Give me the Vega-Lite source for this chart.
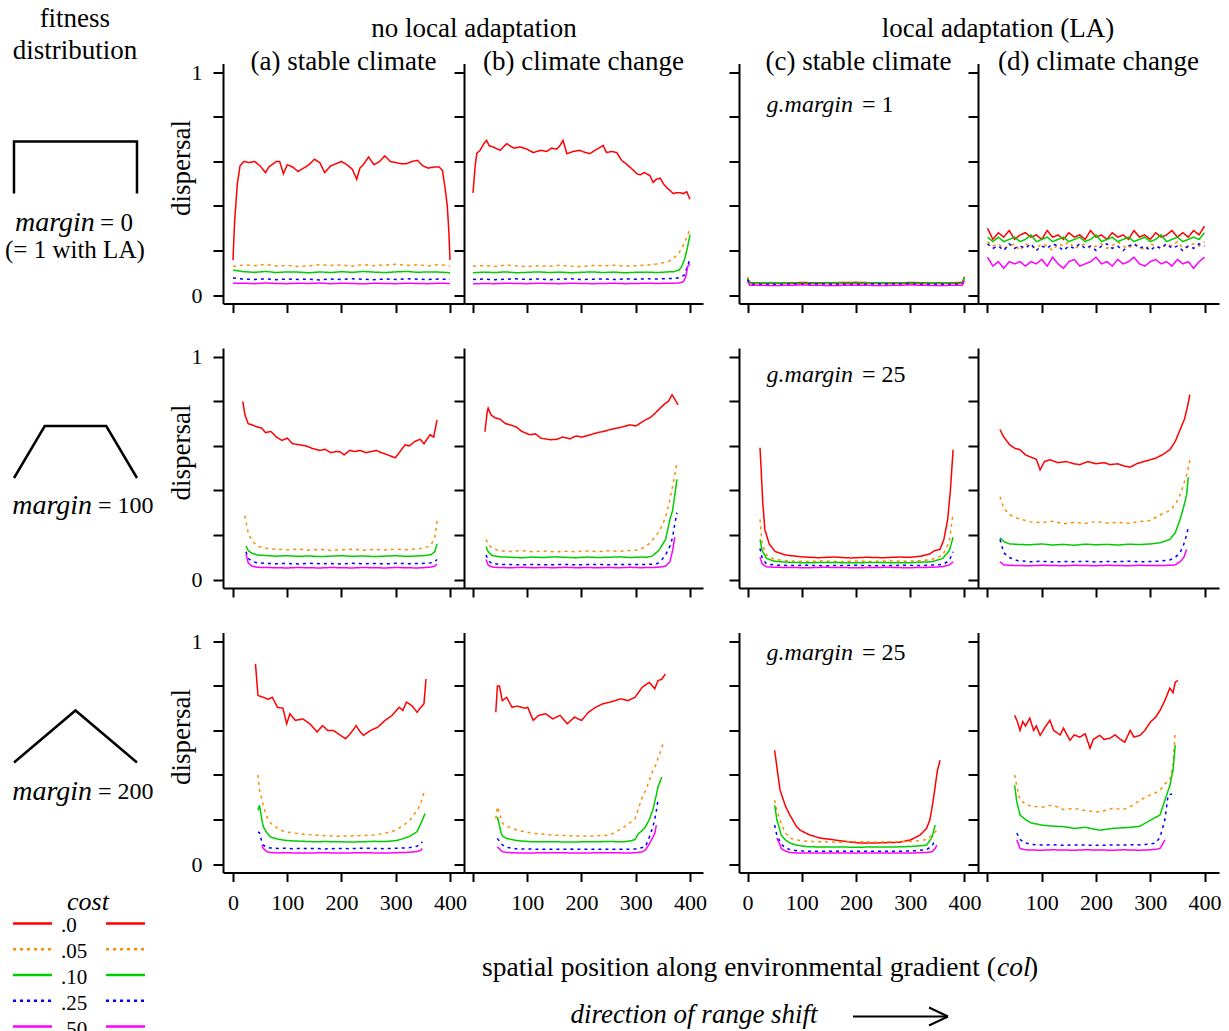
{
"$schema": "https://vega.github.io/schema/vega-lite/v6.json",
"padding": 0,
"background": "white",
"config": {
  "font": "Liberation Serif",
  "view": {"stroke": null},
  "axis": {"grid": false, "domainColor": "black", "domainWidth": 2, "tickColor": "black", "tickWidth": 2, "labelColor": "black", "labelFontSize": 22, "labelFont": "Liberation Serif", "titleFont": "Liberation Serif", "titleColor": "black", "titleFontSize": 27, "titleFontWeight": "normal", "labelFlush": false, "labelOverlap": false},
  "title": {"fontSize": 27, "fontWeight": "normal", "color": "black", "font": "Liberation Serif"},
  "text": {"color": "black"}
},
"datasets": {"d": [
{"p":"a1","x":0,"c0":0.157,"c05":0.128,"c10":0.112,"c25":0.076,"c50":0.053},
{"p":"a1","x":3,"c0":0.33},{"p":"a1","x":8,"c0":0.5},{"p":"a1","x":13,"c0":0.58},
{"p":"a1","x":20,"c0":0.6,"c05":0.135,"c10":0.105,"c25":0.072,"c50":0.053},
{"p":"a1","x":30,"c0":0.595},
{"p":"a1","x":40,"c0":0.6,"c05":0.132,"c10":0.102,"c25":0.07,"c50":0.051},
{"p":"a1","x":50,"c0":0.58},
{"p":"a1","x":60,"c0":0.55,"c05":0.138,"c10":0.106,"c25":0.073,"c50":0.054},
{"p":"a1","x":66,"c0":0.575},
{"p":"a1","x":80,"c0":0.6,"c05":0.13,"c10":0.101,"c25":0.069,"c50":0.052},
{"p":"a1","x":86,"c0":0.6},{"p":"a1","x":93,"c0":0.545},
{"p":"a1","x":100,"c0":0.585,"c05":0.134,"c10":0.104,"c25":0.072,"c50":0.051},
{"p":"a1","x":110,"c0":0.575},
{"p":"a1","x":120,"c0":0.555,"c05":0.128,"c10":0.103,"c25":0.07,"c50":0.053},
{"p":"a1","x":130,"c0":0.57},
{"p":"a1","x":140,"c0":0.585,"c05":0.131,"c10":0.1,"c25":0.071,"c50":0.052},
{"p":"a1","x":150,"c0":0.61},
{"p":"a1","x":160,"c0":0.595,"c05":0.136,"c10":0.104,"c25":0.068,"c50":0.054},
{"p":"a1","x":169,"c0":0.55},
{"p":"a1","x":180,"c0":0.58,"c05":0.133,"c10":0.101,"c25":0.072,"c50":0.051},
{"p":"a1","x":190,"c0":0.59},
{"p":"a1","x":200,"c0":0.6,"c05":0.135,"c10":0.105,"c25":0.07,"c50":0.053},
{"p":"a1","x":210,"c0":0.585},
{"p":"a1","x":220,"c0":0.565,"c05":0.129,"c10":0.102,"c25":0.073,"c50":0.052},
{"p":"a1","x":228,"c0":0.52},{"p":"a1","x":234,"c0":0.57},
{"p":"a1","x":240,"c0":0.585,"c05":0.137,"c10":0.106,"c25":0.071,"c50":0.05},
{"p":"a1","x":250,"c0":0.62},
{"p":"a1","x":260,"c0":0.585,"c05":0.132,"c10":0.103,"c25":0.069,"c50":0.053},
{"p":"a1","x":270,"c0":0.6},
{"p":"a1","x":280,"c0":0.625,"c05":0.135,"c10":0.101,"c25":0.072,"c50":0.052},
{"p":"a1","x":290,"c0":0.6},
{"p":"a1","x":300,"c0":0.595,"c05":0.138,"c10":0.104,"c25":0.07,"c50":0.051},
{"p":"a1","x":310,"c0":0.59},
{"p":"a1","x":320,"c0":0.59,"c05":0.133,"c10":0.106,"c25":0.073,"c50":0.053},
{"p":"a1","x":330,"c0":0.6},
{"p":"a1","x":340,"c0":0.605,"c05":0.136,"c10":0.102,"c25":0.071,"c50":0.052},
{"p":"a1","x":350,"c0":0.58},
{"p":"a1","x":360,"c0":0.57,"c05":0.131,"c10":0.104,"c25":0.07,"c50":0.051},
{"p":"a1","x":370,"c0":0.575},
{"p":"a1","x":380,"c0":0.575,"c05":0.137,"c10":0.103,"c25":0.072,"c50":0.053},
{"p":"a1","x":386,"c0":0.56},{"p":"a1","x":391,"c0":0.48},{"p":"a1","x":395,"c0":0.4},{"p":"a1","x":398,"c0":0.28},
{"p":"a1","x":400,"c0":0.157,"c05":0.13,"c10":0.1,"c25":0.07,"c50":0.052},

{"p":"b1","x":0,"c0":0.459,"c05":0.13,"c10":0.1,"c25":0.07,"c50":0.05},
{"p":"b1","x":4,"c0":0.58},{"p":"b1","x":7,"c0":0.637},{"p":"b1","x":13,"c0":0.65},
{"p":"b1","x":20,"c0":0.68,"c05":0.133,"c10":0.103,"c25":0.072,"c50":0.052},
{"p":"b1","x":25,"c0":0.695},{"p":"b1","x":30,"c0":0.67},{"p":"b1","x":37,"c0":0.665},{"p":"b1","x":50,"c0":0.65},
{"p":"b1","x":62,"c0":0.68},{"p":"b1","x":75,"c0":0.66},{"p":"b1","x":87,"c0":0.665},{"p":"b1","x":100,"c0":0.655},
{"p":"b1","x":111,"c0":0.64},{"p":"b1","x":125,"c0":0.65},{"p":"b1","x":136,"c0":0.645},{"p":"b1","x":145,"c0":0.66},
{"p":"b1","x":154,"c0":0.655},{"p":"b1","x":160,"c0":0.67},{"p":"b1","x":166,"c0":0.695},{"p":"b1","x":173,"c0":0.635},
{"p":"b1","x":185,"c0":0.645},{"p":"b1","x":197,"c0":0.65},{"p":"b1","x":207,"c0":0.64},{"p":"b1","x":215,"c0":0.635},
{"p":"b1","x":225,"c0":0.65},{"p":"b1","x":232,"c0":0.66},{"p":"b1","x":240,"c0":0.672},{"p":"b1","x":246,"c0":0.64},
{"p":"b1","x":255,"c0":0.645},{"p":"b1","x":265,"c0":0.64},{"p":"b1","x":274,"c0":0.605},{"p":"b1","x":282,"c0":0.59},
{"p":"b1","x":289,"c0":0.575},{"p":"b1","x":296,"c0":0.56},{"p":"b1","x":302,"c0":0.545},{"p":"b1","x":308,"c0":0.54},
{"p":"b1","x":316,"c0":0.55},{"p":"b1","x":326,"c0":0.537},{"p":"b1","x":332,"c0":0.506},{"p":"b1","x":338,"c0":0.52},
{"p":"b1","x":345,"c0":0.525},{"p":"b1","x":351,"c0":0.5},{"p":"b1","x":357,"c0":0.483},{"p":"b1","x":363,"c0":0.47},
{"p":"b1","x":369,"c0":0.456},{"p":"b1","x":375,"c0":0.46},{"p":"b1","x":382,"c0":0.46},{"p":"b1","x":388,"c0":0.455},
{"p":"b1","x":394,"c0":0.464},
{"p":"b1","x":40,"c05":0.128,"c10":0.101,"c25":0.069,"c50":0.051},
{"p":"b1","x":60,"c05":0.135,"c10":0.104,"c25":0.071,"c50":0.053},
{"p":"b1","x":80,"c05":0.131,"c10":0.1,"c25":0.073,"c50":0.052},
{"p":"b1","x":100,"c05":0.127,"c10":0.102,"c25":0.07,"c50":0.051},
{"p":"b1","x":120,"c05":0.132,"c10":0.104,"c25":0.072,"c50":0.053},
{"p":"b1","x":140,"c05":0.129,"c10":0.101,"c25":0.069,"c50":0.052},
{"p":"b1","x":160,"c05":0.134,"c10":0.103,"c25":0.071,"c50":0.051},
{"p":"b1","x":180,"c05":0.13,"c10":0.1,"c25":0.073,"c50":0.053},
{"p":"b1","x":200,"c05":0.128,"c10":0.102,"c25":0.07,"c50":0.052},
{"p":"b1","x":220,"c05":0.133,"c10":0.104,"c25":0.071,"c50":0.051},
{"p":"b1","x":240,"c05":0.131,"c10":0.101,"c25":0.072,"c50":0.052},
{"p":"b1","x":260,"c05":0.134,"c10":0.103,"c25":0.07,"c50":0.053},
{"p":"b1","x":280,"c05":0.13,"c10":0.1,"c25":0.072,"c50":0.051},
{"p":"b1","x":300,"c05":0.132,"c10":0.102,"c25":0.071,"c50":0.052},
{"p":"b1","x":320,"c05":0.134,"c10":0.103,"c25":0.073,"c50":0.053},
{"p":"b1","x":340,"c05":0.14,"c10":0.101,"c25":0.072,"c50":0.052},
{"p":"b1","x":360,"c05":0.15,"c10":0.104,"c25":0.074,"c50":0.053},
{"p":"b1","x":370,"c05":0.165,"c10":0.105,"c25":0.074,"c50":0.053},
{"p":"b1","x":380,"c05":0.19,"c10":0.112,"c25":0.078,"c50":0.054},
{"p":"b1","x":385,"c10":0.13},
{"p":"b1","x":388,"c50":0.06},
{"p":"b1","x":390,"c05":0.235,"c10":0.16,"c25":0.09},
{"p":"b1","x":392,"c50":0.08},
{"p":"b1","x":394,"c25":0.12},
{"p":"b1","x":395,"c10":0.21},
{"p":"b1","x":396,"c50":0.13},
{"p":"b1","x":397,"c25":0.14},
{"p":"b1","x":400,"c0":0.43,"c05":0.295,"c10":0.27,"c25":0.164,"c50":0.14},

{"p":"c1","x":0,"c0":0.078,"c05":0.072,"c10":0.075,"c25":0.068,"c50":0.062},
{"p":"c1","x":4,"c0":0.056,"c05":0.053,"c10":0.054,"c25":0.049,"c50":0.044},
{"p":"c1","x":50,"c0":0.054,"c05":0.052,"c10":0.055,"c25":0.048,"c50":0.043},
{"p":"c1","x":100,"c0":0.056,"c05":0.053,"c10":0.052,"c25":0.05,"c50":0.045},
{"p":"c1","x":150,"c0":0.055,"c05":0.051,"c10":0.054,"c25":0.049,"c50":0.043},
{"p":"c1","x":200,"c0":0.057,"c05":0.053,"c10":0.053,"c25":0.048,"c50":0.044},
{"p":"c1","x":250,"c0":0.054,"c05":0.052,"c10":0.055,"c25":0.05,"c50":0.043},
{"p":"c1","x":300,"c0":0.056,"c05":0.051,"c10":0.053,"c25":0.049,"c50":0.045},
{"p":"c1","x":350,"c0":0.055,"c05":0.053,"c10":0.054,"c25":0.048,"c50":0.043},
{"p":"c1","x":396,"c0":0.056,"c05":0.052,"c10":0.053,"c25":0.049,"c50":0.044},
{"p":"c1","x":400,"c0":0.082,"c05":0.076,"c10":0.08,"c25":0.07,"c50":0.066},

{"p":"d1","x":0,"c0":0.3,"c05":0.24,"c10":0.26,"c25":0.23,"c50":0.17},
{"p":"d1","x":10,"c0":0.25,"c05":0.22,"c10":0.24,"c25":0.21,"c50":0.13},
{"p":"d1","x":20,"c0":0.28,"c05":0.23,"c10":0.26,"c25":0.22,"c50":0.15},
{"p":"d1","x":30,"c0":0.26,"c05":0.21,"c10":0.24,"c25":0.2,"c50":0.12},
{"p":"d1","x":40,"c0":0.29,"c05":0.22,"c10":0.25,"c25":0.23,"c50":0.15},
{"p":"d1","x":50,"c0":0.25,"c05":0.23,"c10":0.26,"c25":0.21,"c50":0.14},
{"p":"d1","x":60,"c0":0.27,"c05":0.2,"c10":0.24,"c25":0.22,"c50":0.15},
{"p":"d1","x":70,"c0":0.28,"c05":0.23,"c10":0.25,"c25":0.21,"c50":0.13},
{"p":"d1","x":80,"c0":0.26,"c05":0.22,"c10":0.27,"c25":0.23,"c50":0.15},
{"p":"d1","x":90,"c0":0.27,"c05":0.21,"c10":0.24,"c25":0.2,"c50":0.14},
{"p":"d1","x":100,"c0":0.25,"c05":0.23,"c10":0.25,"c25":0.22,"c50":0.16},
{"p":"d1","x":110,"c0":0.29,"c05":0.22,"c10":0.26,"c25":0.21,"c50":0.13},
{"p":"d1","x":120,"c0":0.26,"c05":0.2,"c10":0.24,"c25":0.23,"c50":0.17},
{"p":"d1","x":130,"c0":0.27,"c05":0.23,"c10":0.25,"c25":0.22,"c50":0.14},
{"p":"d1","x":140,"c0":0.25,"c05":0.22,"c10":0.26,"c25":0.2,"c50":0.12},
{"p":"d1","x":150,"c0":0.28,"c05":0.24,"c10":0.24,"c25":0.22,"c50":0.15},
{"p":"d1","x":160,"c0":0.26,"c05":0.21,"c10":0.25,"c25":0.21,"c50":0.16},
{"p":"d1","x":170,"c0":0.27,"c05":0.22,"c10":0.26,"c25":0.23,"c50":0.13},
{"p":"d1","x":180,"c0":0.25,"c05":0.23,"c10":0.24,"c25":0.21,"c50":0.14},
{"p":"d1","x":190,"c0":0.29,"c05":0.21,"c10":0.25,"c25":0.22,"c50":0.15},
{"p":"d1","x":200,"c0":0.26,"c05":0.22,"c10":0.27,"c25":0.2,"c50":0.17},
{"p":"d1","x":210,"c0":0.27,"c05":0.23,"c10":0.24,"c25":0.22,"c50":0.14},
{"p":"d1","x":220,"c0":0.25,"c05":0.21,"c10":0.25,"c25":0.23,"c50":0.15},
{"p":"d1","x":230,"c0":0.28,"c05":0.22,"c10":0.26,"c25":0.21,"c50":0.13},
{"p":"d1","x":240,"c0":0.26,"c05":0.24,"c10":0.24,"c25":0.22,"c50":0.16},
{"p":"d1","x":250,"c0":0.27,"c05":0.22,"c10":0.25,"c25":0.2,"c50":0.14},
{"p":"d1","x":260,"c0":0.25,"c05":0.21,"c10":0.26,"c25":0.22,"c50":0.15},
{"p":"d1","x":270,"c0":0.29,"c05":0.23,"c10":0.24,"c25":0.23,"c50":0.17},
{"p":"d1","x":280,"c0":0.26,"c05":0.22,"c10":0.25,"c25":0.21,"c50":0.14},
{"p":"d1","x":290,"c0":0.27,"c05":0.2,"c10":0.26,"c25":0.22,"c50":0.13},
{"p":"d1","x":300,"c0":0.25,"c05":0.23,"c10":0.24,"c25":0.2,"c50":0.15},
{"p":"d1","x":310,"c0":0.28,"c05":0.22,"c10":0.25,"c25":0.22,"c50":0.16},
{"p":"d1","x":320,"c0":0.26,"c05":0.21,"c10":0.27,"c25":0.21,"c50":0.14},
{"p":"d1","x":330,"c0":0.27,"c05":0.23,"c10":0.24,"c25":0.23,"c50":0.15},
{"p":"d1","x":340,"c0":0.29,"c05":0.22,"c10":0.25,"c25":0.21,"c50":0.13},
{"p":"d1","x":350,"c0":0.26,"c05":0.24,"c10":0.26,"c25":0.22,"c50":0.16},
{"p":"d1","x":360,"c0":0.28,"c05":0.21,"c10":0.24,"c25":0.2,"c50":0.14},
{"p":"d1","x":370,"c0":0.26,"c05":0.22,"c10":0.25,"c25":0.22,"c50":0.15},
{"p":"d1","x":380,"c0":0.29,"c05":0.23,"c10":0.26,"c25":0.21,"c50":0.12},
{"p":"d1","x":390,"c0":0.27,"c05":0.22,"c10":0.25,"c25":0.23,"c50":0.15},
{"p":"d1","x":400,"c0":0.31,"c05":0.24,"c10":0.28,"c25":0.22,"c50":0.17},

{"p":"a2","x":18,"c0":0.8},{"p":"a2","x":22,"c0":0.74},{"p":"a2","x":28,"c0":0.7},{"p":"a2","x":35,"c0":0.695},
{"p":"a2","x":45,"c0":0.685},{"p":"a2","x":53,"c0":0.68},{"p":"a2","x":60,"c0":0.66},{"p":"a2","x":70,"c0":0.665},
{"p":"a2","x":80,"c0":0.64},{"p":"a2","x":90,"c0":0.625},{"p":"a2","x":100,"c0":0.635},{"p":"a2","x":110,"c0":0.61},
{"p":"a2","x":123,"c0":0.605},{"p":"a2","x":135,"c0":0.6},{"p":"a2","x":145,"c0":0.59},{"p":"a2","x":160,"c0":0.58},
{"p":"a2","x":170,"c0":0.585},{"p":"a2","x":180,"c0":0.57},{"p":"a2","x":190,"c0":0.575},{"p":"a2","x":197,"c0":0.574},
{"p":"a2","x":205,"c0":0.56},{"p":"a2","x":215,"c0":0.58},{"p":"a2","x":225,"c0":0.575},{"p":"a2","x":234,"c0":0.58},
{"p":"a2","x":245,"c0":0.57},{"p":"a2","x":255,"c0":0.575},{"p":"a2","x":265,"c0":0.58},{"p":"a2","x":271,"c0":0.572},
{"p":"a2","x":285,"c0":0.56},{"p":"a2","x":299,"c0":0.547},{"p":"a2","x":305,"c0":0.565},{"p":"a2","x":317,"c0":0.605},
{"p":"a2","x":325,"c0":0.6},{"p":"a2","x":335,"c0":0.62},{"p":"a2","x":345,"c0":0.63},{"p":"a2","x":352,"c0":0.61},
{"p":"a2","x":363,"c0":0.65},{"p":"a2","x":370,"c0":0.64},{"p":"a2","x":376,"c0":0.717},
{"p":"a2","x":22,"c05":0.287},
{"p":"a2","x":24,"c05":0.26,"c10":0.15,"c25":0.125,"c50":0.115},
{"p":"a2","x":28,"c05":0.21,"c10":0.13,"c25":0.095,"c50":0.075},
{"p":"a2","x":35,"c05":0.175,"c10":0.118,"c25":0.082,"c50":0.06},
{"p":"a2","x":45,"c05":0.15,"c10":0.11,"c25":0.075,"c50":0.055},
{"p":"a2","x":60,"c05":0.14,"c10":0.108,"c25":0.073,"c50":0.054},
{"p":"a2","x":80,"c05":0.136,"c10":0.105,"c25":0.071,"c50":0.053},
{"p":"a2","x":100,"c05":0.133,"c10":0.107,"c25":0.072,"c50":0.052},
{"p":"a2","x":120,"c05":0.137,"c10":0.104,"c25":0.07,"c50":0.054},
{"p":"a2","x":140,"c05":0.132,"c10":0.106,"c25":0.073,"c50":0.053},
{"p":"a2","x":160,"c05":0.135,"c10":0.103,"c25":0.071,"c50":0.052},
{"p":"a2","x":180,"c05":0.131,"c10":0.105,"c25":0.072,"c50":0.054},
{"p":"a2","x":200,"c05":0.134,"c10":0.107,"c25":0.07,"c50":0.053},
{"p":"a2","x":220,"c05":0.136,"c10":0.104,"c25":0.073,"c50":0.052},
{"p":"a2","x":240,"c05":0.132,"c10":0.106,"c25":0.071,"c50":0.054},
{"p":"a2","x":260,"c05":0.135,"c10":0.103,"c25":0.072,"c50":0.053},
{"p":"a2","x":280,"c05":0.133,"c10":0.105,"c25":0.07,"c50":0.052},
{"p":"a2","x":300,"c05":0.136,"c10":0.107,"c25":0.073,"c50":0.054},
{"p":"a2","x":320,"c05":0.134,"c10":0.104,"c25":0.071,"c50":0.053},
{"p":"a2","x":340,"c05":0.138,"c10":0.106,"c25":0.072,"c50":0.052},
{"p":"a2","x":355,"c05":0.143,"c10":0.108,"c25":0.073,"c50":0.054},
{"p":"a2","x":365,"c05":0.155,"c10":0.112,"c25":0.075,"c50":0.056},
{"p":"a2","x":372,"c05":0.19,"c10":0.125,"c25":0.08,"c50":0.06},
{"p":"a2","x":376,"c05":0.26,"c10":0.16,"c25":0.09,"c50":0.07},
{"p":"a2","x":378,"c05":0.27},

{"p":"b2","x":22,"c0":0.664},{"p":"b2","x":26,"c0":0.75},{"p":"b2","x":28,"c0":0.77},{"p":"b2","x":33,"c0":0.74},
{"p":"b2","x":40,"c0":0.727},{"p":"b2","x":50,"c0":0.72},{"p":"b2","x":60,"c0":0.7},{"p":"b2","x":68,"c0":0.695},
{"p":"b2","x":80,"c0":0.685},{"p":"b2","x":90,"c0":0.665},{"p":"b2","x":105,"c0":0.65},{"p":"b2","x":115,"c0":0.655},
{"p":"b2","x":125,"c0":0.635},{"p":"b2","x":142,"c0":0.628},{"p":"b2","x":155,"c0":0.63},{"p":"b2","x":165,"c0":0.64},
{"p":"b2","x":179,"c0":0.632},{"p":"b2","x":190,"c0":0.645},{"p":"b2","x":200,"c0":0.64},{"p":"b2","x":216,"c0":0.65},
{"p":"b2","x":230,"c0":0.66},{"p":"b2","x":240,"c0":0.665},{"p":"b2","x":252,"c0":0.673},{"p":"b2","x":265,"c0":0.68},
{"p":"b2","x":275,"c0":0.685},{"p":"b2","x":289,"c0":0.695},{"p":"b2","x":300,"c0":0.69},{"p":"b2","x":310,"c0":0.705},
{"p":"b2","x":320,"c0":0.72},{"p":"b2","x":326,"c0":0.726},{"p":"b2","x":335,"c0":0.745},{"p":"b2","x":345,"c0":0.77},
{"p":"b2","x":354,"c0":0.79},{"p":"b2","x":360,"c0":0.8},{"p":"b2","x":367,"c0":0.83},{"p":"b2","x":372,"c0":0.81},
{"p":"b2","x":378,"c0":0.785},
{"p":"b2","x":24,"c05":0.18,"c10":0.148,"c25":0.11,"c50":0.09},
{"p":"b2","x":28,"c05":0.16,"c10":0.125,"c25":0.085,"c50":0.065},
{"p":"b2","x":35,"c05":0.14,"c10":0.108,"c25":0.072,"c50":0.056},
{"p":"b2","x":50,"c05":0.128,"c10":0.102,"c25":0.068,"c50":0.054},
{"p":"b2","x":70,"c05":0.126,"c10":0.1,"c25":0.067,"c50":0.053},
{"p":"b2","x":90,"c05":0.13,"c10":0.098,"c25":0.066,"c50":0.055},
{"p":"b2","x":110,"c05":0.125,"c10":0.101,"c25":0.068,"c50":0.053},
{"p":"b2","x":130,"c05":0.128,"c10":0.099,"c25":0.066,"c50":0.054},
{"p":"b2","x":150,"c05":0.124,"c10":0.102,"c25":0.067,"c50":0.053},
{"p":"b2","x":170,"c05":0.127,"c10":0.1,"c25":0.068,"c50":0.055},
{"p":"b2","x":190,"c05":0.125,"c10":0.098,"c25":0.066,"c50":0.053},
{"p":"b2","x":210,"c05":0.128,"c10":0.101,"c25":0.067,"c50":0.054},
{"p":"b2","x":230,"c05":0.126,"c10":0.099,"c25":0.068,"c50":0.053},
{"p":"b2","x":250,"c05":0.129,"c10":0.1,"c25":0.066,"c50":0.054},
{"p":"b2","x":270,"c05":0.127,"c10":0.102,"c25":0.068,"c50":0.053},
{"p":"b2","x":290,"c05":0.13,"c10":0.099,"c25":0.067,"c50":0.055},
{"p":"b2","x":300,"c05":0.132,"c10":0.1,"c25":0.068,"c50":0.054},
{"p":"b2","x":310,"c05":0.138,"c10":0.101,"c25":0.067,"c50":0.053},
{"p":"b2","x":320,"c05":0.15,"c10":0.1,"c25":0.068,"c50":0.054},
{"p":"b2","x":330,"c05":0.175,"c10":0.105,"c25":0.069,"c50":0.054},
{"p":"b2","x":340,"c05":0.205,"c10":0.125,"c25":0.072,"c50":0.055},
{"p":"b2","x":345,"c05":0.224,"c10":0.14,"c25":0.08,"c50":0.056},
{"p":"b2","x":355,"c05":0.28,"c10":0.18,"c25":0.11,"c50":0.06},
{"p":"b2","x":363,"c05":0.36,"c10":0.27,"c25":0.15,"c50":0.08},
{"p":"b2","x":368,"c05":0.42,"c10":0.31,"c25":0.19,"c50":0.13},
{"p":"b2","x":372,"c05":0.47,"c10":0.38,"c25":0.25,"c50":0.19},
{"p":"b2","x":376,"c05":0.525,"c10":0.45,"c25":0.3},

{"p":"c2","x":23,"c0":0.592},{"p":"c2","x":25,"c0":0.5},{"p":"c2","x":28,"c0":0.35},{"p":"c2","x":32,"c0":0.224},
{"p":"c2","x":40,"c0":0.16},{"p":"c2","x":51,"c0":0.126},{"p":"c2","x":70,"c0":0.11},{"p":"c2","x":100,"c0":0.102},
{"p":"c2","x":130,"c0":0.098},{"p":"c2","x":160,"c0":0.101},{"p":"c2","x":190,"c0":0.097},{"p":"c2","x":220,"c0":0.1},
{"p":"c2","x":250,"c0":0.098},{"p":"c2","x":280,"c0":0.101},{"p":"c2","x":300,"c0":0.1},{"p":"c2","x":320,"c0":0.105},
{"p":"c2","x":336,"c0":0.115},{"p":"c2","x":345,"c0":0.13},{"p":"c2","x":355,"c0":0.136},{"p":"c2","x":362,"c0":0.18},
{"p":"c2","x":369,"c0":0.27},{"p":"c2","x":374,"c0":0.4},{"p":"c2","x":379,"c0":0.583},
{"p":"c2","x":23,"c05":0.27,"c10":0.18,"c25":0.14,"c50":0.1},
{"p":"c2","x":27,"c05":0.16,"c10":0.13,"c25":0.095,"c50":0.07},
{"p":"c2","x":35,"c05":0.11,"c10":0.095,"c25":0.07,"c50":0.057},
{"p":"c2","x":50,"c05":0.09,"c10":0.082,"c25":0.065,"c50":0.055},
{"p":"c2","x":80,"c05":0.083,"c10":0.077,"c25":0.063,"c50":0.054},
{"p":"c2","x":110,"c05":0.081,"c10":0.075,"c25":0.064,"c50":0.053},
{"p":"c2","x":140,"c05":0.084,"c10":0.077,"c25":0.062,"c50":0.055},
{"p":"c2","x":170,"c05":0.08,"c10":0.076,"c25":0.063,"c50":0.054},
{"p":"c2","x":200,"c05":0.083,"c10":0.075,"c25":0.064,"c50":0.053},
{"p":"c2","x":230,"c05":0.081,"c10":0.077,"c25":0.062,"c50":0.054},
{"p":"c2","x":260,"c05":0.084,"c10":0.076,"c25":0.063,"c50":0.055},
{"p":"c2","x":290,"c05":0.082,"c10":0.075,"c25":0.064,"c50":0.053},
{"p":"c2","x":320,"c05":0.085,"c10":0.078,"c25":0.063,"c50":0.054},
{"p":"c2","x":340,"c05":0.09,"c10":0.08,"c25":0.065,"c50":0.055},
{"p":"c2","x":360,"c05":0.11,"c10":0.095,"c25":0.068,"c50":0.058},
{"p":"c2","x":372,"c05":0.17,"c10":0.13,"c25":0.085,"c50":0.065},
{"p":"c2","x":379,"c05":0.3,"c10":0.19,"c25":0.125,"c50":0.08},

{"p":"d2","x":23,"c0":0.673},{"p":"d2","x":30,"c0":0.64},{"p":"d2","x":41,"c0":0.605},{"p":"d2","x":50,"c0":0.59},
{"p":"d2","x":60,"c0":0.583},{"p":"d2","x":70,"c0":0.56},{"p":"d2","x":80,"c0":0.55},{"p":"d2","x":90,"c0":0.54},
{"p":"d2","x":97,"c0":0.493},{"p":"d2","x":105,"c0":0.53},{"p":"d2","x":115,"c0":0.538},{"p":"d2","x":130,"c0":0.525},
{"p":"d2","x":145,"c0":0.53},{"p":"d2","x":160,"c0":0.52},{"p":"d2","x":170,"c0":0.516},{"p":"d2","x":185,"c0":0.53},
{"p":"d2","x":200,"c0":0.52},{"p":"d2","x":215,"c0":0.525},{"p":"d2","x":226,"c0":0.516},{"p":"d2","x":240,"c0":0.52},
{"p":"d2","x":252,"c0":0.51},{"p":"d2","x":263,"c0":0.505},{"p":"d2","x":275,"c0":0.52},{"p":"d2","x":288,"c0":0.53},
{"p":"d2","x":300,"c0":0.538},{"p":"d2","x":310,"c0":0.545},{"p":"d2","x":322,"c0":0.56},{"p":"d2","x":336,"c0":0.583},
{"p":"d2","x":346,"c0":0.62},{"p":"d2","x":355,"c0":0.673},{"p":"d2","x":363,"c0":0.72},{"p":"d2","x":368,"c0":0.77},
{"p":"d2","x":373,"c0":0.83},
{"p":"d2","x":23,"c05":0.372,"c10":0.188,"c25":0.18,"c50":0.08},
{"p":"d2","x":30,"c05":0.32,"c10":0.17,"c25":0.12,"c50":0.066},
{"p":"d2","x":41,"c05":0.291,"c10":0.16,"c25":0.098,"c50":0.064},
{"p":"d2","x":55,"c05":0.275,"c10":0.158,"c25":0.085,"c50":0.063},
{"p":"d2","x":78,"c05":0.26,"c10":0.156,"c25":0.08,"c50":0.062},
{"p":"d2","x":100,"c05":0.255,"c10":0.16,"c25":0.082,"c50":0.064},
{"p":"d2","x":120,"c05":0.262,"c10":0.155,"c25":0.079,"c50":0.063},
{"p":"d2","x":140,"c05":0.25,"c10":0.158,"c25":0.081,"c50":0.062},
{"p":"d2","x":160,"c05":0.258,"c10":0.154,"c25":0.08,"c50":0.064},
{"p":"d2","x":180,"c05":0.252,"c10":0.159,"c25":0.082,"c50":0.063},
{"p":"d2","x":200,"c05":0.26,"c10":0.156,"c25":0.079,"c50":0.062},
{"p":"d2","x":220,"c05":0.254,"c10":0.158,"c25":0.081,"c50":0.064},
{"p":"d2","x":240,"c05":0.257,"c10":0.155,"c25":0.08,"c50":0.063},
{"p":"d2","x":260,"c05":0.253,"c10":0.159,"c25":0.082,"c50":0.062},
{"p":"d2","x":280,"c05":0.26,"c10":0.157,"c25":0.08,"c50":0.064},
{"p":"d2","x":300,"c05":0.265,"c10":0.16,"c25":0.081,"c50":0.063},
{"p":"d2","x":318,"c05":0.29,"c10":0.165,"c25":0.083,"c50":0.063},
{"p":"d2","x":336,"c05":0.31,"c10":0.18,"c25":0.088,"c50":0.064},
{"p":"d2","x":346,"c05":0.336,"c10":0.21,"c25":0.1,"c50":0.066},
{"p":"d2","x":355,"c05":0.38,"c10":0.27,"c25":0.12,"c50":0.08},
{"p":"d2","x":362,"c05":0.43,"c10":0.33,"c25":0.16,"c50":0.1},
{"p":"d2","x":367,"c05":0.47,"c10":0.38,"c25":0.2,"c50":0.135},
{"p":"d2","x":370,"c05":0.5,"c10":0.46,"c25":0.233},
{"p":"d2","x":373,"c05":0.538},

{"p":"a3","x":41.5,"c0":0.899},{"p":"a3","x":46,"c0":0.757},{"p":"a3","x":56,"c0":0.749},{"p":"a3","x":65,"c0":0.74},
{"p":"a3","x":72.5,"c0":0.749},{"p":"a3","x":82,"c0":0.704},{"p":"a3","x":92,"c0":0.7},{"p":"a3","x":99,"c0":0.63},
{"p":"a3","x":105,"c0":0.675},{"p":"a3","x":115,"c0":0.645},{"p":"a3","x":128.5,"c0":0.652},{"p":"a3","x":141.7,"c0":0.63},
{"p":"a3","x":155,"c0":0.593},{"p":"a3","x":165,"c0":0.622},{"p":"a3","x":174.6,"c0":0.6},{"p":"a3","x":185,"c0":0.6},
{"p":"a3","x":194,"c0":0.585},{"p":"a3","x":207.6,"c0":0.563},{"p":"a3","x":214,"c0":0.58},{"p":"a3","x":220.8,"c0":0.6},
{"p":"a3","x":227,"c0":0.622},{"p":"a3","x":234,"c0":0.595},{"p":"a3","x":240.5,"c0":0.578},{"p":"a3","x":253.7,"c0":0.6},
{"p":"a3","x":267,"c0":0.615},{"p":"a3","x":280,"c0":0.645},{"p":"a3","x":293,"c0":0.667},{"p":"a3","x":306.4,"c0":0.704},
{"p":"a3","x":313,"c0":0.69},{"p":"a3","x":319.6,"c0":0.727},{"p":"a3","x":329.5,"c0":0.712},{"p":"a3","x":339.4,"c0":0.682},
{"p":"a3","x":345,"c0":0.7},{"p":"a3","x":352,"c0":0.72},{"p":"a3","x":355.8,"c0":0.831},
{"p":"a3","x":46,"c05":0.4,"c10":0.242,"c25":0.145},
{"p":"a3","x":49,"c05":0.33,"c10":0.264,"c25":0.14},
{"p":"a3","x":53,"c05":0.294,"c10":0.2,"c25":0.1,"c50":0.085},
{"p":"a3","x":56,"c05":0.26,"c10":0.167,"c25":0.085,"c50":0.07},
{"p":"a3","x":62.6,"c05":0.212,"c10":0.14,"c25":0.075,"c50":0.055},
{"p":"a3","x":69,"c05":0.185,"c10":0.122,"c25":0.072,"c50":0.052},
{"p":"a3","x":82,"c05":0.16,"c10":0.112,"c25":0.07,"c50":0.05},
{"p":"a3","x":95,"c05":0.145,"c10":0.107,"c25":0.071,"c50":0.051},
{"p":"a3","x":110,"c05":0.14,"c10":0.104,"c25":0.069,"c50":0.05},
{"p":"a3","x":130,"c05":0.134,"c10":0.102,"c25":0.07,"c50":0.049},
{"p":"a3","x":150,"c05":0.13,"c10":0.1,"c25":0.07,"c50":0.05},
{"p":"a3","x":170,"c05":0.127,"c10":0.101,"c25":0.068,"c50":0.051},
{"p":"a3","x":194,"c05":0.125,"c10":0.1,"c25":0.07,"c50":0.049},
{"p":"a3","x":215,"c05":0.127,"c10":0.099,"c25":0.069,"c50":0.05},
{"p":"a3","x":240,"c05":0.128,"c10":0.1,"c25":0.071,"c50":0.051},
{"p":"a3","x":260,"c05":0.13,"c10":0.102,"c25":0.07,"c50":0.05},
{"p":"a3","x":280,"c05":0.138,"c10":0.101,"c25":0.069,"c50":0.049},
{"p":"a3","x":300,"c05":0.152,"c10":0.105,"c25":0.071,"c50":0.051},
{"p":"a3","x":315,"c05":0.175,"c10":0.115,"c25":0.072,"c50":0.052},
{"p":"a3","x":326,"c05":0.197,"c10":0.125,"c25":0.074,"c50":0.053},
{"p":"a3","x":339,"c05":0.24,"c10":0.145,"c25":0.08,"c50":0.056},
{"p":"a3","x":346,"c05":0.27,"c10":0.18,"c25":0.09,"c50":0.062},
{"p":"a3","x":349,"c05":0.3,"c10":0.197,"c25":0.1,"c50":0.07},
{"p":"a3","x":354,"c05":0.331,"c10":0.227},

{"p":"b3","x":42,"c0":0.682},{"p":"b3","x":45,"c0":0.8},{"p":"b3","x":48.7,"c0":0.8},{"p":"b3","x":54,"c0":0.734},
{"p":"b3","x":62,"c0":0.749},{"p":"b3","x":72,"c0":0.704},{"p":"b3","x":81.6,"c0":0.71},{"p":"b3","x":94.7,"c0":0.7},
{"p":"b3","x":101,"c0":0.704},{"p":"b3","x":111,"c0":0.645},{"p":"b3","x":121,"c0":0.668},{"p":"b3","x":134,"c0":0.675},
{"p":"b3","x":147,"c0":0.652},{"p":"b3","x":160.5,"c0":0.668},{"p":"b3","x":173.7,"c0":0.63},{"p":"b3","x":187,"c0":0.66},
{"p":"b3","x":200,"c0":0.645},{"p":"b3","x":213,"c0":0.682},{"p":"b3","x":226,"c0":0.704},{"p":"b3","x":239.5,"c0":0.72},
{"p":"b3","x":252.6,"c0":0.727},{"p":"b3","x":272,"c0":0.742},{"p":"b3","x":285.5,"c0":0.734},{"p":"b3","x":298.7,"c0":0.749},
{"p":"b3","x":312,"c0":0.794},{"p":"b3","x":325,"c0":0.816},{"p":"b3","x":335,"c0":0.787},{"p":"b3","x":341,"c0":0.824},
{"p":"b3","x":348,"c0":0.83},{"p":"b3","x":354.6,"c0":0.854},
{"p":"b3","x":42,"c05":0.204},
{"p":"b3","x":45,"c05":0.257,"c10":0.212,"c25":0.115,"c50":0.078},
{"p":"b3","x":52,"c05":0.2,"c10":0.137,"c25":0.09,"c50":0.06},
{"p":"b3","x":55,"c05":0.182,"c10":0.125,"c25":0.085,"c50":0.055},
{"p":"b3","x":62,"c05":0.17,"c10":0.115,"c25":0.075,"c50":0.052},
{"p":"b3","x":81.6,"c05":0.152,"c10":0.105,"c25":0.068,"c50":0.05},
{"p":"b3","x":110,"c05":0.138,"c10":0.1,"c25":0.067,"c50":0.05},
{"p":"b3","x":147,"c05":0.13,"c10":0.1,"c25":0.066,"c50":0.051},
{"p":"b3","x":180,"c05":0.127,"c10":0.099,"c25":0.067,"c50":0.05},
{"p":"b3","x":213,"c05":0.125,"c10":0.1,"c25":0.066,"c50":0.05},
{"p":"b3","x":252.6,"c05":0.13,"c10":0.101,"c25":0.067,"c50":0.051},
{"p":"b3","x":279,"c05":0.167,"c10":0.1,"c25":0.066,"c50":0.05},
{"p":"b3","x":292,"c05":0.19,"c10":0.105,"c25":0.067,"c50":0.05},
{"p":"b3","x":298.7,"c05":0.204,"c10":0.11,"c25":0.068,"c50":0.051},
{"p":"b3","x":305,"c05":0.25,"c10":0.137,"c25":0.07,"c50":0.052},
{"p":"b3","x":312,"c05":0.3,"c10":0.15,"c25":0.074,"c50":0.055},
{"p":"b3","x":318,"c05":0.33,"c10":0.167,"c25":0.078,"c50":0.063},
{"p":"b3","x":325,"c05":0.376,"c10":0.2,"c25":0.12,"c50":0.09},
{"p":"b3","x":331.6,"c05":0.42,"c10":0.242,"c25":0.167,"c50":0.12},
{"p":"b3","x":335,"c05":0.435,"c10":0.28,"c25":0.2,"c50":0.137},
{"p":"b3","x":338,"c05":0.45,"c10":0.31,"c25":0.24,"c50":0.175},
{"p":"b3","x":341,"c05":0.475,"c10":0.346,"c25":0.287},
{"p":"b3","x":348,"c05":0.52,"c10":0.391},
{"p":"b3","x":351,"c05":0.548},

{"p":"c3","x":50,"c0":0.511},{"p":"c3","x":55,"c0":0.42},{"p":"c3","x":60,"c0":0.332},{"p":"c3","x":70,"c0":0.26},
{"p":"c3","x":78,"c0":0.22},{"p":"c3","x":90,"c0":0.17},{"p":"c3","x":97,"c0":0.152},{"p":"c3","x":115,"c0":0.13},
{"p":"c3","x":134,"c0":0.117},{"p":"c3","x":170,"c0":0.105},{"p":"c3","x":207,"c0":0.094},{"p":"c3","x":240,"c0":0.095},
{"p":"c3","x":281,"c0":0.098},{"p":"c3","x":300,"c0":0.108},{"p":"c3","x":318,"c0":0.13},{"p":"c3","x":330,"c0":0.16},
{"p":"c3","x":336,"c0":0.197},{"p":"c3","x":340,"c0":0.25},{"p":"c3","x":345,"c0":0.332},{"p":"c3","x":350,"c0":0.42},
{"p":"c3","x":355,"c0":0.466},
{"p":"c3","x":50,"c05":0.287,"c10":0.265,"c25":0.175},
{"p":"c3","x":54,"c05":0.24,"c10":0.2,"c25":0.13,"c50":0.117},
{"p":"c3","x":60,"c05":0.197,"c10":0.15,"c25":0.1,"c50":0.085},
{"p":"c3","x":62,"c05":0.18,"c10":0.13,"c25":0.09,"c50":0.07},
{"p":"c3","x":70,"c05":0.14,"c10":0.108,"c25":0.072,"c50":0.058},
{"p":"c3","x":78,"c05":0.117,"c10":0.095,"c25":0.065,"c50":0.052},
{"p":"c3","x":90,"c05":0.108,"c10":0.085,"c25":0.06,"c50":0.05},
{"p":"c3","x":110,"c05":0.102,"c10":0.078,"c25":0.058,"c50":0.05},
{"p":"c3","x":140,"c05":0.1,"c10":0.076,"c25":0.057,"c50":0.049},
{"p":"c3","x":170,"c05":0.098,"c10":0.077,"c25":0.058,"c50":0.05},
{"p":"c3","x":200,"c05":0.101,"c10":0.075,"c25":0.057,"c50":0.049},
{"p":"c3","x":230,"c05":0.099,"c10":0.077,"c25":0.058,"c50":0.05},
{"p":"c3","x":260,"c05":0.1,"c10":0.076,"c25":0.057,"c50":0.049},
{"p":"c3","x":290,"c05":0.101,"c10":0.078,"c25":0.058,"c50":0.05},
{"p":"c3","x":310,"c05":0.103,"c10":0.08,"c25":0.06,"c50":0.05},
{"p":"c3","x":330,"c05":0.11,"c10":0.085,"c25":0.065,"c50":0.052},
{"p":"c3","x":340,"c05":0.13,"c10":0.12,"c25":0.08,"c50":0.055},
{"p":"c3","x":346,"c05":0.145,"c10":0.175,"c25":0.108,"c50":0.07},
{"p":"c3","x":349,"c05":0.152,"c50":0.085},

{"p":"d3","x":50,"c0":0.668},{"p":"d3","x":55,"c0":0.64},{"p":"d3","x":60,"c0":0.6},{"p":"d3","x":65,"c0":0.64},
{"p":"d3","x":70,"c0":0.62},{"p":"d3","x":78,"c0":0.655},{"p":"d3","x":85,"c0":0.6},{"p":"d3","x":90,"c0":0.62},
{"p":"d3","x":97,"c0":0.578},{"p":"d3","x":105,"c0":0.61},{"p":"d3","x":115,"c0":0.646},{"p":"d3","x":122,"c0":0.6},
{"p":"d3","x":134,"c0":0.58},{"p":"d3","x":140,"c0":0.61},{"p":"d3","x":152,"c0":0.556},{"p":"d3","x":160,"c0":0.58},
{"p":"d3","x":170,"c0":0.57},{"p":"d3","x":180,"c0":0.585},{"p":"d3","x":189,"c0":0.52},{"p":"d3","x":195,"c0":0.56},
{"p":"d3","x":207,"c0":0.578},{"p":"d3","x":215,"c0":0.56},{"p":"d3","x":226,"c0":0.565},{"p":"d3","x":235,"c0":0.58},
{"p":"d3","x":245,"c0":0.56},{"p":"d3","x":253,"c0":0.547},{"p":"d3","x":263,"c0":0.6},{"p":"d3","x":270,"c0":0.57},
{"p":"d3","x":281,"c0":0.578},{"p":"d3","x":290,"c0":0.6},{"p":"d3","x":300,"c0":0.637},{"p":"d3","x":310,"c0":0.66},
{"p":"d3","x":318,"c0":0.69},{"p":"d3","x":327,"c0":0.735},{"p":"d3","x":336,"c0":0.79},{"p":"d3","x":342,"c0":0.77},
{"p":"d3","x":346,"c0":0.816},{"p":"d3","x":351,"c0":0.825},
{"p":"d3","x":50,"c05":0.4,"c10":0.354},
{"p":"d3","x":54,"c05":0.35,"c10":0.28,"c25":0.139,"c50":0.108},
{"p":"d3","x":60,"c05":0.287,"c10":0.22,"c25":0.11,"c50":0.07},
{"p":"d3","x":70,"c05":0.27,"c10":0.2,"c25":0.095,"c50":0.064},
{"p":"d3","x":80,"c05":0.26,"c10":0.185,"c25":0.088,"c50":0.063},
{"p":"d3","x":100,"c05":0.255,"c10":0.175,"c25":0.085,"c50":0.062},
{"p":"d3","x":120,"c05":0.265,"c10":0.17,"c25":0.087,"c50":0.064},
{"p":"d3","x":140,"c05":0.245,"c10":0.168,"c25":0.084,"c50":0.063},
{"p":"d3","x":160,"c05":0.25,"c10":0.16,"c25":0.086,"c50":0.062},
{"p":"d3","x":180,"c05":0.24,"c10":0.165,"c25":0.085,"c50":0.064},
{"p":"d3","x":207,"c05":0.233,"c10":0.152,"c25":0.084,"c50":0.063},
{"p":"d3","x":230,"c05":0.25,"c10":0.16,"c25":0.086,"c50":0.062},
{"p":"d3","x":250,"c05":0.245,"c10":0.163,"c25":0.085,"c50":0.064},
{"p":"d3","x":265,"c05":0.26,"c10":0.165,"c25":0.087,"c50":0.063},
{"p":"d3","x":281,"c05":0.287,"c10":0.17,"c25":0.086,"c50":0.062},
{"p":"d3","x":300,"c05":0.31,"c10":0.197,"c25":0.09,"c50":0.064},
{"p":"d3","x":310,"c05":0.32,"c10":0.21,"c25":0.095,"c50":0.066},
{"p":"d3","x":318,"c05":0.332,"c10":0.22,"c25":0.12,"c50":0.07},
{"p":"d3","x":327,"c05":0.36,"c10":0.287,"c25":0.2,"c50":0.108},
{"p":"d3","x":333,"c05":0.37,"c10":0.33,"c25":0.31},
{"p":"d3","x":336,"c05":0.377,"c10":0.35},
{"p":"d3","x":340,"c05":0.42,"c10":0.4,"c25":0.315},
{"p":"d3","x":342,"c05":0.45,"c10":0.42},
{"p":"d3","x":346,"c05":0.59,"c10":0.534}
]},
"columns": 6,
"spacing": {"row": 44.5, "column": 0},
"bounds": "flush",
"concat": [
 {"width": 223, "height": 18.5, "data": {"values": []}, "mark": "point", "title": {"text": "no local adaptation", "orient": "bottom", "anchor": "middle", "frame": "group", "baseline": "alphabetic", "offset": 18, "dx": 362.5}},
 {"width": 241, "height": 18.5, "data": {"values": []}, "mark": "point", "title": {"text": "(a) stable climate", "orient": "bottom", "anchor": "middle", "frame": "group", "baseline": "alphabetic", "offset": 51.5}},
 {"width": 239, "height": 18.5, "data": {"values": []}, "mark": "point", "title": {"text": "(b) climate change", "orient": "bottom", "anchor": "middle", "frame": "group", "baseline": "alphabetic", "offset": 51.5}},
 {"width": 36, "height": 18.5, "data": {"values": []}, "mark": "point", "title": {"text": "local adaptation (LA)", "orient": "bottom", "anchor": "middle", "frame": "group", "baseline": "alphabetic", "offset": 18, "dx": 277}},
 {"width": 239, "height": 18.5, "data": {"values": []}, "mark": "point", "title": {"text": "(c) stable climate", "orient": "bottom", "anchor": "middle", "frame": "group", "baseline": "alphabetic", "offset": 51.5}},
 {"width": 241, "height": 18.5, "data": {"values": []}, "mark": "point", "title": {"text": "(d) climate change", "orient": "bottom", "anchor": "middle", "frame": "group", "baseline": "alphabetic", "offset": 51.5}},

 {"width": 223, "height": 240, "layer": [
   {"data": {"values": [{"i":0,"x":0,"f":0},{"i":1,"x":0,"f":1},{"i":2,"x":400,"f":1},{"i":3,"x":400,"f":0}]},
    "mark": {"type": "line", "color": "black", "strokeWidth": 2.5},
    "encoding": {"x": {"field": "x", "type": "quantitative", "scale": {"domain": [-45.5, 679.7], "nice": false, "zero": false}, "axis": null},
                 "y": {"field": "f", "type": "quantitative", "scale": {"domain": [-2.1154, 2.5], "nice": false, "zero": false}, "axis": null},
                 "order": {"field": "i", "type": "quantitative"}}},
   {"data": {"values": [{}]}, "mark": {"type": "text", "text": "fitness", "fontSize": 27, "align": "center", "baseline": "middle"},
    "encoding": {"x": {"datum": 198, "type": "quantitative", "axis": null}, "y": {"datum": 3.365, "type": "quantitative", "axis": null}}},
   {"data": {"values": [{}]}, "mark": {"type": "text", "text": "distribution", "fontSize": 27, "align": "center", "baseline": "middle"},
    "encoding": {"x": {"datum": 198, "type": "quantitative", "axis": null}, "y": {"datum": 2.75, "type": "quantitative", "axis": null}}},
   {"data": {"values": [{}]}, "mark": {"type": "text", "text": "margin", "fontStyle": "italic", "fontSize": 28, "align": "right", "baseline": "middle"},
    "encoding": {"x": {"datum": 263, "type": "quantitative", "axis": null}, "y": {"datum": -0.558, "type": "quantitative", "axis": null}}},
   {"data": {"values": [{}]}, "mark": {"type": "text", "text": "= 0", "fontSize": 25, "align": "left", "baseline": "middle"},
    "encoding": {"x": {"datum": 280, "type": "quantitative", "axis": null}, "y": {"datum": -0.558, "type": "quantitative", "axis": null}}},
   {"data": {"values": [{}]}, "mark": {"type": "text", "text": "(= 1 with LA)", "fontSize": 25, "align": "center", "baseline": "middle"},
    "encoding": {"x": {"datum": 198, "type": "quantitative", "axis": null}, "y": {"datum": -1.077, "type": "quantitative", "axis": null}}}
 ]},
 {"width": 241, "height": 240,
  "data": {"name": "d"}, "transform": [{"filter": "datum.p == 'a1'"}, {"fold": ["c0","c05","c10","c25","c50"], "as": ["cost","y"]}, {"filter": "isValid(datum.y)"}],
  "mark": {"type": "line", "strokeWidth": 1.5},
  "encoding": {
    "x": {"field": "x", "type": "quantitative", "scale": {"domain": [-18.4, 425.8], "nice": false, "zero": false}, "axis": {"values": [0,100,200,300,400], "labels": false, "title": null, "tickSize": 9}},
    "y": {"field": "y", "type": "quantitative", "scale": {"domain": [-0.038, 1.04], "nice": false, "zero": false}, "axis": {"values": [0,0.2,0.4,0.6,0.8,1], "labelExpr": "datum.value == 0 ? '0' : datum.value == 1 ? '1' : ''", "title": "dispersal", "tickSize": 10, "labelPadding": 11, "titlePadding": -4, "titleY": 104}},
    "color": {"field": "cost", "type": "nominal", "scale": {"domain": ["c0","c05","c10","c25","c50"], "range": ["#ff0000","#ff8c00","#00cd00","#0000ff","#ff00ff"]}, "legend": null},
    "strokeDash": {"field": "cost", "type": "nominal", "scale": {"domain": ["c0","c05","c10","c25","c50"], "range": [[1,0],[3,4],[1,0],[3,4],[1,0]]}, "legend": null}}},
 {"width": 239, "height": 240,
  "data": {"name": "d"}, "transform": [{"filter": "datum.p == 'b1'"}, {"fold": ["c0","c05","c10","c25","c50"], "as": ["cost","y"]}, {"filter": "isValid(datum.y)"}],
  "mark": {"type": "line", "strokeWidth": 1.5},
  "encoding": {
    "x": {"field": "x", "type": "quantitative", "scale": {"domain": [-16.6, 424], "nice": false, "zero": false}, "axis": {"values": [0,100,200,300,400], "labels": false, "title": null, "tickSize": 9}},
    "y": {"field": "y", "type": "quantitative", "scale": {"domain": [-0.038, 1.04], "nice": false, "zero": false}, "axis": {"values": [0,0.2,0.4,0.6,0.8,1], "labels": false, "title": null, "tickSize": 10}},
    "color": {"field": "cost", "type": "nominal", "legend": null},
    "strokeDash": {"field": "cost", "type": "nominal", "legend": null}}},
 {"width": 36, "height": 240, "data": {"values": []}, "mark": "point"},
 {"width": 239, "height": 240,
  "layer": [
   {"data": {"name": "d"}, "transform": [{"filter": "datum.p == 'c1'"}, {"fold": ["c0","c05","c10","c25","c50"], "as": ["cost","y"]}, {"filter": "isValid(datum.y)"}],
    "mark": {"type": "line", "strokeWidth": 1.5},
    "encoding": {
      "x": {"field": "x", "type": "quantitative", "scale": {"domain": [-15.7, 424.9], "nice": false, "zero": false}, "axis": {"values": [0,100,200,300,400], "labels": false, "title": null, "tickSize": 9}},
      "y": {"field": "y", "type": "quantitative", "scale": {"domain": [-0.038, 1.04], "nice": false, "zero": false}, "axis": {"values": [0,0.2,0.4,0.6,0.8,1], "labels": false, "title": null, "tickSize": 10}},
      "color": {"field": "cost", "type": "nominal", "legend": null},
      "strokeDash": {"field": "cost", "type": "nominal", "legend": null}}},
   {"data": {"values": [{}]}, "mark": {"type": "text", "text": "g.margin", "fontStyle": "italic", "fontSize": 24, "align": "right", "baseline": "middle"},
    "encoding": {"x": {"datum": 194.5, "type": "quantitative"}, "y": {"datum": 0.852, "type": "quantitative"}}},
   {"data": {"values": [{}]}, "mark": {"type": "text", "text": "= 1", "fontSize": 24, "align": "left", "baseline": "middle"},
    "encoding": {"x": {"datum": 211, "type": "quantitative"}, "y": {"datum": 0.852, "type": "quantitative"}}}
  ]},
 {"width": 241, "height": 240,
  "data": {"name": "d"}, "transform": [{"filter": "datum.p == 'd1'"}, {"fold": ["c0","c05","c10","c25","c50"], "as": ["cost","y"]}, {"filter": "isValid(datum.y)"}],
  "mark": {"type": "line", "strokeWidth": 1.5},
  "encoding": {
    "x": {"field": "x", "type": "quantitative", "scale": {"domain": [-17.5, 426.7], "nice": false, "zero": false}, "axis": {"values": [0,100,200,300,400], "labels": false, "title": null, "tickSize": 9}},
    "y": {"field": "y", "type": "quantitative", "scale": {"domain": [-0.038, 1.04], "nice": false, "zero": false}, "axis": {"values": [0,0.2,0.4,0.6,0.8,1], "labels": false, "title": null, "tickSize": 10}},
    "color": {"field": "cost", "type": "nominal", "legend": null},
    "strokeDash": {"field": "cost", "type": "nominal", "legend": null}}},

 {"width": 223, "height": 240, "layer": [
   {"data": {"values": [{"i":0,"x":0,"f":0},{"i":1,"x":100,"f":1},{"i":2,"x":300,"f":1},{"i":3,"x":400,"f":0}]},
    "mark": {"type": "line", "color": "black", "strokeWidth": 2.5},
    "encoding": {"x": {"field": "x", "type": "quantitative", "scale": {"domain": [-45.5, 679.7], "nice": false, "zero": false}, "axis": null},
                 "y": {"field": "f", "type": "quantitative", "scale": {"domain": [-2.1154, 2.5], "nice": false, "zero": false}, "axis": null},
                 "order": {"field": "i", "type": "quantitative"}}},
   {"data": {"values": [{}]}, "mark": {"type": "text", "text": "margin", "fontStyle": "italic", "fontSize": 28, "align": "right", "baseline": "middle"},
    "encoding": {"x": {"datum": 254, "type": "quantitative", "axis": null}, "y": {"datum": -0.548, "type": "quantitative", "axis": null}}},
   {"data": {"values": [{}]}, "mark": {"type": "text", "text": "= 100", "fontSize": 24, "align": "left", "baseline": "middle"},
    "encoding": {"x": {"datum": 273, "type": "quantitative", "axis": null}, "y": {"datum": -0.548, "type": "quantitative", "axis": null}}}
 ]},
 {"width": 241, "height": 240,
  "data": {"name": "d"}, "transform": [{"filter": "datum.p == 'a2'"}, {"fold": ["c0","c05","c10","c25","c50"], "as": ["cost","y"]}, {"filter": "isValid(datum.y)"}],
  "mark": {"type": "line", "strokeWidth": 1.5},
  "encoding": {
    "x": {"field": "x", "type": "quantitative", "scale": {"domain": [-18.4, 425.8], "nice": false, "zero": false}, "axis": {"values": [0,100,200,300,400], "labels": false, "title": null, "tickSize": 9}},
    "y": {"field": "y", "type": "quantitative", "scale": {"domain": [-0.038, 1.04], "nice": false, "zero": false}, "axis": {"values": [0,0.2,0.4,0.6,0.8,1], "labelExpr": "datum.value == 0 ? '0' : datum.value == 1 ? '1' : ''", "title": "dispersal", "tickSize": 10, "labelPadding": 11, "titlePadding": -4, "titleY": 104}},
    "color": {"field": "cost", "type": "nominal", "legend": null},
    "strokeDash": {"field": "cost", "type": "nominal", "legend": null}}},
 {"width": 239, "height": 240,
  "data": {"name": "d"}, "transform": [{"filter": "datum.p == 'b2'"}, {"fold": ["c0","c05","c10","c25","c50"], "as": ["cost","y"]}, {"filter": "isValid(datum.y)"}],
  "mark": {"type": "line", "strokeWidth": 1.5},
  "encoding": {
    "x": {"field": "x", "type": "quantitative", "scale": {"domain": [-16.6, 424], "nice": false, "zero": false}, "axis": {"values": [0,100,200,300,400], "labels": false, "title": null, "tickSize": 9}},
    "y": {"field": "y", "type": "quantitative", "scale": {"domain": [-0.038, 1.04], "nice": false, "zero": false}, "axis": {"values": [0,0.2,0.4,0.6,0.8,1], "labels": false, "title": null, "tickSize": 10}},
    "color": {"field": "cost", "type": "nominal", "legend": null},
    "strokeDash": {"field": "cost", "type": "nominal", "legend": null}}},
 {"width": 36, "height": 240, "data": {"values": []}, "mark": "point"},
 {"width": 239, "height": 240,
  "layer": [
   {"data": {"name": "d"}, "transform": [{"filter": "datum.p == 'c2'"}, {"fold": ["c0","c05","c10","c25","c50"], "as": ["cost","y"]}, {"filter": "isValid(datum.y)"}],
    "mark": {"type": "line", "strokeWidth": 1.5},
    "encoding": {
      "x": {"field": "x", "type": "quantitative", "scale": {"domain": [-15.7, 424.9], "nice": false, "zero": false}, "axis": {"values": [0,100,200,300,400], "labels": false, "title": null, "tickSize": 9}},
      "y": {"field": "y", "type": "quantitative", "scale": {"domain": [-0.038, 1.04], "nice": false, "zero": false}, "axis": {"values": [0,0.2,0.4,0.6,0.8,1], "labels": false, "title": null, "tickSize": 10}},
      "color": {"field": "cost", "type": "nominal", "legend": null},
      "strokeDash": {"field": "cost", "type": "nominal", "legend": null}}},
   {"data": {"values": [{}]}, "mark": {"type": "text", "text": "g.margin", "fontStyle": "italic", "fontSize": 24, "align": "right", "baseline": "middle"},
    "encoding": {"x": {"datum": 194.5, "type": "quantitative"}, "y": {"datum": 0.919, "type": "quantitative"}}},
   {"data": {"values": [{}]}, "mark": {"type": "text", "text": "= 25", "fontSize": 24, "align": "left", "baseline": "middle"},
    "encoding": {"x": {"datum": 211, "type": "quantitative"}, "y": {"datum": 0.919, "type": "quantitative"}}}
  ]},
 {"width": 241, "height": 240,
  "data": {"name": "d"}, "transform": [{"filter": "datum.p == 'd2'"}, {"fold": ["c0","c05","c10","c25","c50"], "as": ["cost","y"]}, {"filter": "isValid(datum.y)"}],
  "mark": {"type": "line", "strokeWidth": 1.5},
  "encoding": {
    "x": {"field": "x", "type": "quantitative", "scale": {"domain": [-17.5, 426.7], "nice": false, "zero": false}, "axis": {"values": [0,100,200,300,400], "labels": false, "title": null, "tickSize": 9}},
    "y": {"field": "y", "type": "quantitative", "scale": {"domain": [-0.038, 1.04], "nice": false, "zero": false}, "axis": {"values": [0,0.2,0.4,0.6,0.8,1], "labels": false, "title": null, "tickSize": 10}},
    "color": {"field": "cost", "type": "nominal", "legend": null},
    "strokeDash": {"field": "cost", "type": "nominal", "legend": null}}},

 {"width": 223, "height": 240,
  "title": {"text": "cost", "fontStyle": "italic", "fontSize": 26, "orient": "bottom", "anchor": "middle", "frame": "group", "dx": -23.5, "offset": 37, "baseline": "alphabetic"},
  "layer": [
   {"data": {"values": [{"i":0,"x":0,"f":0},{"i":1,"x":200,"f":1},{"i":2,"x":400,"f":0}]},
    "mark": {"type": "line", "color": "black", "strokeWidth": 2.5},
    "encoding": {"x": {"field": "x", "type": "quantitative", "scale": {"domain": [-45.5, 679.7], "nice": false, "zero": false}, "axis": null},
                 "y": {"field": "f", "type": "quantitative", "scale": {"domain": [-2.1154, 2.5], "nice": false, "zero": false}, "axis": null},
                 "order": {"field": "i", "type": "quantitative"}}},
   {"data": {"values": [{}]}, "mark": {"type": "text", "text": "margin", "fontStyle": "italic", "fontSize": 28, "align": "right", "baseline": "middle"},
    "encoding": {"x": {"datum": 254, "type": "quantitative", "axis": null}, "y": {"datum": -0.558, "type": "quantitative", "axis": null}}},
   {"data": {"values": [{}]}, "mark": {"type": "text", "text": "= 200", "fontSize": 24, "align": "left", "baseline": "middle"},
    "encoding": {"x": {"datum": 273, "type": "quantitative", "axis": null}, "y": {"datum": -0.558, "type": "quantitative", "axis": null}}}
 ]},
 {"width": 241, "height": 240,
  "data": {"name": "d"}, "transform": [{"filter": "datum.p == 'a3'"}, {"fold": ["c0","c05","c10","c25","c50"], "as": ["cost","y"]}, {"filter": "isValid(datum.y)"}],
  "mark": {"type": "line", "strokeWidth": 1.5},
  "encoding": {
    "x": {"field": "x", "type": "quantitative", "scale": {"domain": [-18.4, 425.8], "nice": false, "zero": false}, "axis": {"values": [0,100,200,300,400], "title": null, "tickSize": 9, "labelPadding": 11}},
    "y": {"field": "y", "type": "quantitative", "scale": {"domain": [-0.038, 1.04], "nice": false, "zero": false}, "axis": {"values": [0,0.2,0.4,0.6,0.8,1], "labelExpr": "datum.value == 0 ? '0' : datum.value == 1 ? '1' : ''", "title": "dispersal", "tickSize": 10, "labelPadding": 11, "titlePadding": -4, "titleY": 104}},
    "color": {"field": "cost", "type": "nominal", "legend": null},
    "strokeDash": {"field": "cost", "type": "nominal", "legend": null}}},
 {"width": 239, "height": 240,
  "data": {"name": "d"}, "transform": [{"filter": "datum.p == 'b3'"}, {"fold": ["c0","c05","c10","c25","c50"], "as": ["cost","y"]}, {"filter": "isValid(datum.y)"}],
  "mark": {"type": "line", "strokeWidth": 1.5},
  "encoding": {
    "x": {"field": "x", "type": "quantitative", "scale": {"domain": [-16.6, 424], "nice": false, "zero": false}, "axis": {"values": [0,100,200,300,400], "labelExpr": "datum.value == 0 ? '' : datum.label", "title": null, "tickSize": 9, "labelPadding": 11}},
    "y": {"field": "y", "type": "quantitative", "scale": {"domain": [-0.038, 1.04], "nice": false, "zero": false}, "axis": {"values": [0,0.2,0.4,0.6,0.8,1], "labels": false, "title": null, "tickSize": 10}},
    "color": {"field": "cost", "type": "nominal", "legend": null},
    "strokeDash": {"field": "cost", "type": "nominal", "legend": null}}},
 {"width": 36, "height": 240, "data": {"values": []}, "mark": "point"},
 {"width": 239, "height": 240,
  "layer": [
   {"data": {"name": "d"}, "transform": [{"filter": "datum.p == 'c3'"}, {"fold": ["c0","c05","c10","c25","c50"], "as": ["cost","y"]}, {"filter": "isValid(datum.y)"}],
    "mark": {"type": "line", "strokeWidth": 1.5},
    "encoding": {
      "x": {"field": "x", "type": "quantitative", "scale": {"domain": [-15.7, 424.9], "nice": false, "zero": false}, "axis": {"values": [0,100,200,300,400], "title": null, "tickSize": 9, "labelPadding": 11}},
      "y": {"field": "y", "type": "quantitative", "scale": {"domain": [-0.038, 1.04], "nice": false, "zero": false}, "axis": {"values": [0,0.2,0.4,0.6,0.8,1], "labels": false, "title": null, "tickSize": 10}},
      "color": {"field": "cost", "type": "nominal", "legend": null},
      "strokeDash": {"field": "cost", "type": "nominal", "legend": null}}},
   {"data": {"values": [{}]}, "mark": {"type": "text", "text": "g.margin", "fontStyle": "italic", "fontSize": 24, "align": "right", "baseline": "middle"},
    "encoding": {"x": {"datum": 194.5, "type": "quantitative"}, "y": {"datum": 0.946, "type": "quantitative"}}},
   {"data": {"values": [{}]}, "mark": {"type": "text", "text": "= 25", "fontSize": 24, "align": "left", "baseline": "middle"},
    "encoding": {"x": {"datum": 211, "type": "quantitative"}, "y": {"datum": 0.946, "type": "quantitative"}}}
  ]},
 {"width": 241, "height": 240,
  "data": {"name": "d"}, "transform": [{"filter": "datum.p == 'd3'"}, {"fold": ["c0","c05","c10","c25","c50"], "as": ["cost","y"]}, {"filter": "isValid(datum.y)"}],
  "mark": {"type": "line", "strokeWidth": 1.5},
  "encoding": {
    "x": {"field": "x", "type": "quantitative", "scale": {"domain": [-17.5, 426.7], "nice": false, "zero": false}, "axis": {"values": [0,100,200,300,400], "labelExpr": "datum.value == 0 ? '' : datum.label", "title": null, "tickSize": 9, "labelPadding": 11}},
    "y": {"field": "y", "type": "quantitative", "scale": {"domain": [-0.038, 1.04], "nice": false, "zero": false}, "axis": {"values": [0,0.2,0.4,0.6,0.8,1], "labels": false, "title": null, "tickSize": 10}},
    "color": {"field": "cost", "type": "nominal", "legend": null},
    "strokeDash": {"field": "cost", "type": "nominal", "legend": null}}},

 {"width": 223, "height": 116,
  "data": {"values": [{"cost":"c0","lab":".0"},{"cost":"c05","lab":".05"},{"cost":"c10","lab":".10"},{"cost":"c25","lab":".25"},{"cost":"c50","lab":".50"}]},
  "encoding": {"y": {"field": "cost", "type": "nominal", "scale": {"type": "point", "domain": ["c0","c05","c10","c25","c50"], "padding": 0.2524}, "axis": null}},
  "layer": [
    {"mark": {"type": "rule", "strokeWidth": 2.5},
     "encoding": {"x": {"datum": 13, "type": "quantitative", "scale": {"domain": [0, 223], "nice": false, "zero": false}, "axis": null}, "x2": {"datum": 52},
                  "color": {"field": "cost", "type": "nominal", "legend": null},
                  "strokeDash": {"field": "cost", "type": "nominal", "legend": null}}},
    {"mark": {"type": "rule", "strokeWidth": 2.5},
     "encoding": {"x": {"datum": 106, "type": "quantitative", "axis": null}, "x2": {"datum": 145},
                  "color": {"field": "cost", "type": "nominal", "legend": null},
                  "strokeDash": {"field": "cost", "type": "nominal", "legend": null}}},
    {"mark": {"type": "text", "fontSize": 21, "align": "left", "baseline": "middle", "dy": 3},
     "encoding": {"x": {"datum": 61, "type": "quantitative", "axis": null}, "text": {"field": "lab"}}}
  ]},
 {"width": 241, "height": 116, "layer": [
   {"data": {"values": [{}]}, "mark": {"type": "text", "text": "spatial position along environmental gradient (", "fontSize": 27.5, "align": "right", "baseline": "middle"},
    "encoding": {"x": {"datum": 773, "type": "quantitative", "scale": {"domain": [0, 241], "nice": false, "zero": false}, "axis": null},
                 "y": {"datum": 50.5, "type": "quantitative", "scale": {"domain": [0, 116], "nice": false, "zero": false, "reverse": true}, "axis": null}}},
   {"data": {"values": [{}]}, "mark": {"type": "text", "text": "col", "fontStyle": "italic", "fontSize": 27.5, "align": "left", "baseline": "middle"},
    "encoding": {"x": {"datum": 774, "type": "quantitative", "axis": null}, "y": {"datum": 50.5, "type": "quantitative", "axis": null}}},
   {"data": {"values": [{}]}, "mark": {"type": "text", "text": ")", "fontSize": 27.5, "align": "left", "baseline": "middle"},
    "encoding": {"x": {"datum": 806, "type": "quantitative", "axis": null}, "y": {"datum": 50.5, "type": "quantitative", "axis": null}}},
   {"data": {"values": [{}]}, "mark": {"type": "text", "text": "direction of range shift", "fontStyle": "italic", "fontSize": 27, "align": "center", "baseline": "middle"},
    "encoding": {"x": {"datum": 471, "type": "quantitative", "axis": null}, "y": {"datum": 97.5, "type": "quantitative", "axis": null}}},
   {"data": {"values": [{}]}, "mark": {"type": "rule", "color": "black", "strokeWidth": 2},
    "encoding": {"x": {"datum": 630, "type": "quantitative", "axis": null}, "x2": {"datum": 725}, "y": {"datum": 99.5, "type": "quantitative", "axis": null}}},
   {"data": {"values": [{}]}, "mark": {"type": "rule", "color": "black", "strokeWidth": 2},
    "encoding": {"x": {"datum": 706, "type": "quantitative", "axis": null}, "x2": {"datum": 725}, "y": {"datum": 90.5, "type": "quantitative", "axis": null}, "y2": {"datum": 99.5}}},
   {"data": {"values": [{}]}, "mark": {"type": "rule", "color": "black", "strokeWidth": 2},
    "encoding": {"x": {"datum": 706, "type": "quantitative", "axis": null}, "x2": {"datum": 725}, "y": {"datum": 108.5, "type": "quantitative", "axis": null}, "y2": {"datum": 99.5}}}
 ]},
 {"width": 239, "height": 116, "data": {"values": []}, "mark": "point"},
 {"width": 36, "height": 116, "data": {"values": []}, "mark": "point"},
 {"width": 239, "height": 116, "data": {"values": []}, "mark": "point"},
 {"width": 241, "height": 116, "data": {"values": []}, "mark": "point"}
]
}
